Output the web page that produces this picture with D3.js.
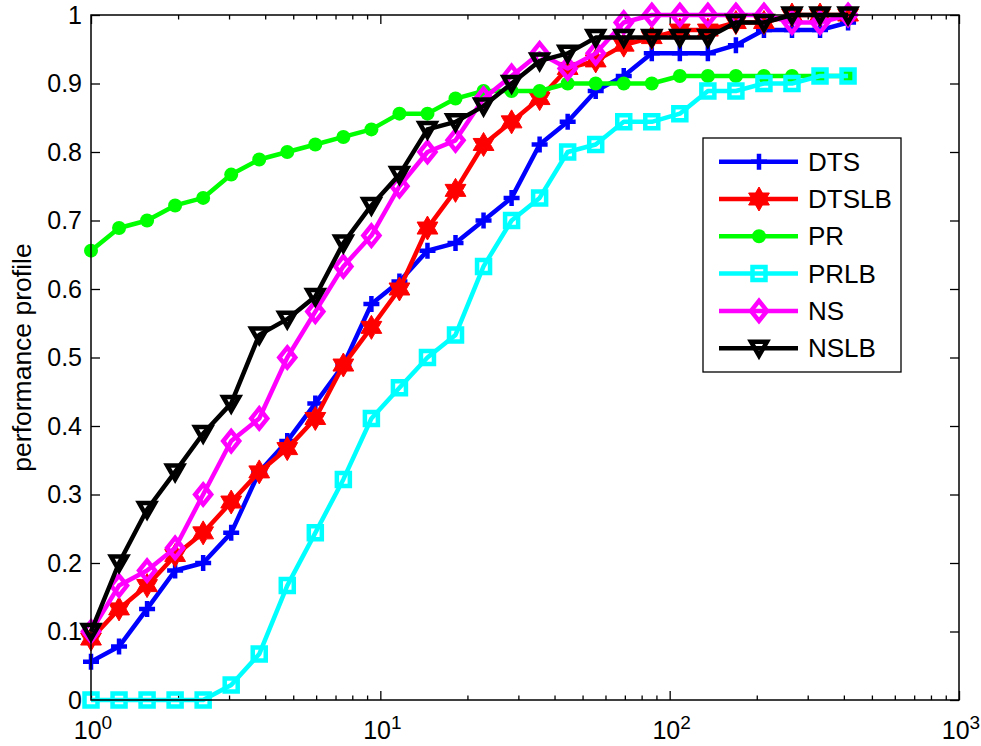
<!DOCTYPE html>
<html><head><meta charset="utf-8">
<script src="https://cdn.jsdelivr.net/npm/d3@7"></script>
<style>
body{margin:0;background:#fff;}
svg{display:block;}
text{font-family:"Liberation Sans",Arial,Helvetica,sans-serif;fill:#000;}
</style>
</head><body>
<svg id="chart" width="981" height="746"></svg>
<script>
// ---------- data ----------
const xValues = [1, 1.25, 1.5625, 1.953125, 2.4414, 3.0518, 3.8147, 4.7684, 5.9605, 7.4506,
  9.3132, 11.6415, 14.5519, 18.1899, 22.7374, 28.4217, 35.5271, 44.4089, 55.5112, 69.3889,
  86.7362, 108.4202, 135.5253, 169.4066, 211.7582, 264.6978, 330.8722, 413.5903];

const dtsValues = [0.056,0.078,0.133,0.189,0.200,0.244,0.333,0.378,0.433,0.489,0.578,0.611,0.656,0.667,
  0.700,0.733,0.811,0.844,0.889,0.911,0.944,0.944,0.944,0.956,0.978,0.978,0.978,0.989];
const dtslbValues = [0.089,0.133,0.167,0.211,0.244,0.289,0.333,0.367,0.411,0.489,0.544,0.600,0.689,0.744,
  0.811,0.844,0.878,0.922,0.933,0.956,0.967,0.978,0.978,0.989,0.989,1,1,1];
const prValues = [0.656,0.689,0.700,0.722,0.733,0.767,0.789,0.800,0.811,0.822,0.833,0.856,0.856,0.878,
  0.889,0.889,0.889,0.900,0.900,0.900,0.900,0.911,0.911,0.911,0.911,0.911,0.911,0.911];
const prlbValues = [0,0,0,0,0,0.022,0.067,0.167,0.244,0.322,0.411,0.456,0.500,0.533,
  0.633,0.700,0.733,0.800,0.811,0.844,0.844,0.856,0.889,0.889,0.900,0.900,0.911,0.911];
const nsValues = [0.100,0.167,0.189,0.222,0.300,0.378,0.411,0.500,0.567,0.633,0.678,0.750,0.800,0.817,
  0.878,0.911,0.944,0.922,0.944,0.989,1,1,1,1,1,0.989,0.989,1];
const nslbValues = [0.100,0.200,0.278,0.333,0.389,0.433,0.533,0.556,0.589,0.667,0.722,0.767,0.833,0.844,
  0.867,0.900,0.933,0.944,0.967,0.967,0.967,0.967,0.967,0.989,0.989,1,1,1];

const seriesNames = ["DTS","DTSLB","PR","PRLB","NS","NSLB"];
const yTickValues = [0,0.1,0.2,0.3,0.4,0.5,0.6,0.7,0.8,0.9,1];
const yTickLabels = ["0","0.1","0.2","0.3","0.4","0.5","0.6","0.7","0.8","0.9","1"];
const xMajorTicks = [1,10,100,1000];
const xTickExponents = ["0","1","2","3"];
const yAxisTitle = "performance profile";

// ---------- styles ----------
const seriesValues = [dtsValues, dtslbValues, prValues, prlbValues, nsValues, nslbValues];
const colors = ["#0000ff","#ff0000","#00ff00","#00ffff","#ff00ff","#000000"];
const markerTypes = ["plus","hexagram","circle","square","diamond","triangleDown"];
const LW = 4.5;

const svg = d3.select("#chart");
const L = 91, R = 959, T = 15, B = 700;
const x = d3.scaleLog().domain([1,1000]).range([L,R]);
const y = d3.scaleLinear().domain([0,1]).range([B,T]);

function hexagramPath(Ro){
  const Ri = Ro/Math.sqrt(3);
  const pts = [];
  for(let i=0;i<12;i++){
    const a = (-90 + i*30)*Math.PI/180;
    const r = i%2===0 ? Ro : Ri;
    pts.push([r*Math.cos(a), r*Math.sin(a)]);
  }
  return "M" + pts.map(p=>p[0].toFixed(2)+","+p[1].toFixed(2)).join("L") + "Z";
}

function drawMarker(g, type, color, cx, cy){
  const m = g.append("g").attr("transform", `translate(${cx},${cy})`);
  if(type==="plus"){
    m.append("path").attr("d","M-8,0H8M0,-8V8").attr("stroke",color).attr("stroke-width",LW).attr("fill","none");
  } else if(type==="hexagram"){
    m.append("path").attr("d",hexagramPath(12)).attr("fill",color).attr("stroke",color).attr("stroke-width",1).attr("stroke-linejoin","miter");
  } else if(type==="circle"){
    m.append("circle").attr("r",7).attr("fill",color).attr("stroke","none");
  } else if(type==="square"){
    m.append("path").attr("d","M-6.5,-6.5H6.5V6.5H-6.5Z").attr("fill","none").attr("stroke",color).attr("stroke-width",LW).attr("stroke-linejoin","miter");
  } else if(type==="diamond"){
    m.append("path").attr("d","M0,-10L8,0L0,10L-8,0Z").attr("fill","none").attr("stroke",color).attr("stroke-width",LW).attr("stroke-linejoin","miter");
  } else if(type==="triangleDown"){
    m.append("path").attr("d","M-8,-6.5L8,-6.5L0,7.5Z").attr("fill","none").attr("stroke",color).attr("stroke-width",LW).attr("stroke-linejoin","miter");
  }
}

// ---------- axes ----------
const axesG = svg.append("g");
const minorTicks = x.ticks().filter(v => !xMajorTicks.includes(v));

function tickStyle(sel){
  sel.select(".domain").remove();
  sel.selectAll(".tick line").attr("stroke","#000").attr("stroke-width",1.3);
}
axesG.append("g").attr("transform",`translate(0,${B})`)
  .call(d3.axisBottom(x).tickValues(xMajorTicks).tickSizeInner(-9).tickSizeOuter(0).tickFormat(""))
  .call(tickStyle);
axesG.append("g").attr("transform",`translate(0,${B})`)
  .call(d3.axisBottom(x).tickValues(minorTicks).tickSizeInner(-4.5).tickSizeOuter(0).tickFormat(""))
  .call(tickStyle);
axesG.append("g").attr("transform",`translate(0,${T})`)
  .call(d3.axisTop(x).tickValues(xMajorTicks).tickSizeInner(-9).tickSizeOuter(0).tickFormat(""))
  .call(tickStyle);
axesG.append("g").attr("transform",`translate(0,${T})`)
  .call(d3.axisTop(x).tickValues(minorTicks).tickSizeInner(-4.5).tickSizeOuter(0).tickFormat(""))
  .call(tickStyle);
const yLeft = axesG.append("g").attr("transform",`translate(${L},0)`)
  .call(d3.axisLeft(y).tickValues(yTickValues).tickSizeInner(-9).tickSizeOuter(0).tickPadding(9)
    .tickFormat((d,i)=>yTickLabels[i]))
  .call(tickStyle);
yLeft.selectAll(".tick text").attr("font-size",25).attr("font-family",null).attr("fill","#000");
axesG.append("g").attr("transform",`translate(${R},0)`)
  .call(d3.axisRight(y).tickValues(yTickValues).tickSizeInner(-9).tickSizeOuter(0).tickFormat(""))
  .call(tickStyle);

// x tick labels with superscripts
const xLab = axesG.append("g");
xMajorTicks.forEach((v,i)=>{
  const t = xLab.append("text").attr("x", x(v)+2).attr("y", 739).attr("text-anchor","middle").attr("font-size",25);
  t.append("tspan").text("10");
  t.append("tspan").attr("dy",-10).attr("font-size",19).text(xTickExponents[i]);
});

// y axis title
svg.append("text").attr("transform",`translate(31,${(T+B)/2}) rotate(-90)`)
  .attr("text-anchor","middle").attr("font-size",26.5).text(yAxisTitle);

// ---------- series ----------
const plotG = svg.append("g");
const line = d3.line().x(d=>x(d[0])).y(d=>y(d[1]));
seriesValues.forEach((vals,si)=>{
  const pts = xValues.map((xv,i)=>[xv, vals[i]]);
  const g = plotG.append("g");
  g.append("path").attr("d", line(pts)).attr("fill","none").attr("stroke",colors[si])
    .attr("stroke-width",LW).attr("stroke-linejoin","round");
  pts.forEach(p => drawMarker(g, markerTypes[si], colors[si], x(p[0]), y(p[1])));
});

// box
svg.append("rect").attr("x",L).attr("y",T).attr("width",R-L).attr("height",B-T)
  .attr("fill","none").attr("stroke","#000").attr("stroke-width",1.5);

// ---------- legend ----------
const lg = svg.append("g");
lg.append("rect").attr("x",703).attr("y",138).attr("width",198).attr("height",234)
  .attr("fill","#fff").attr("stroke","#000").attr("stroke-width",1.3);
seriesNames.forEach((name,i)=>{
  const cy = 161.7 + i*37.3;
  lg.append("line").attr("x1",719).attr("x2",798).attr("y1",cy).attr("y2",cy)
    .attr("stroke",colors[i]).attr("stroke-width",LW);
  drawMarker(lg, markerTypes[i], colors[i], 759, cy);
  lg.append("text").attr("x",808).attr("y",cy).attr("dy","0.35em").attr("font-size",26).text(name);
});
</script>
</body></html>
